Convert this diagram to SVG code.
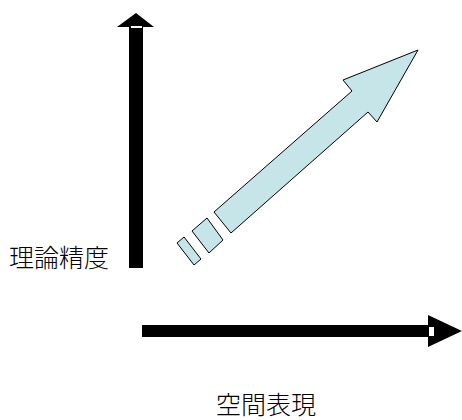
<svg xmlns="http://www.w3.org/2000/svg" width="462" height="420" viewBox="0 0 462 420">
<style>
.lbl{font-family:"Noto Sans CJK JP","Noto Sans CJK SC",sans-serif;font-size:25px;font-weight:300;fill:#000;}
.axis{fill:#000;}
.arr{fill:#c6e5e8;stroke:#000;stroke-width:1;stroke-linejoin:miter;}
</style>
<rect width="462" height="420" fill="#fff"/>
<g id="y-axis">
<rect class="axis" x="129" y="27" width="14" height="241"/>
<polygon class="axis" points="136,13 154,27 117,27"/>
<rect x="131" y="26" width="11" height="2" fill="#fff"/>
</g>
<g id="x-axis">
<rect class="axis" x="142" y="325" width="287" height="12"/>
<polygon class="axis" points="428,315 462,331 428,347"/>
<rect x="429" y="327" width="5" height="9" fill="#fff"/>
</g>
<g id="trend-arrow">
<polygon class="arr" points="418,50 343,80 352,91 214,212 231,233 368,112 377,122"/>
<polygon class="arr" points="192,231 207,218 223,240 209,253"/>
<polygon class="arr" points="177,243 184,237 201,259 194,265"/>
</g>
<g id="labels">
<text class="lbl" x="9" y="267">理論精度</text>
<text class="lbl" x="216" y="414">空間表現</text>
</g>
</svg>
